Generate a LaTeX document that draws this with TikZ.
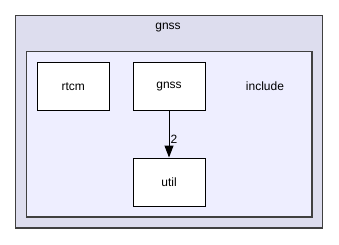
\documentclass[tikz,border=0pt]{standalone}
\usepackage{fontspec}
\setmainfont{Liberation Sans}
\usetikzlibrary{positioning,arrows.meta}
\definecolor{dirouter}{HTML}{DDDDEE}
\definecolor{dirinner}{HTML}{EEEEFF}
\definecolor{dirline}{HTML}{404040}

\tikzset{
  dirbox/.style={draw=black,fill=white,line width=1pt,minimum width=72pt,minimum height=48pt,inner sep=0pt,font=\fontsize{12}{14}\selectfont},
}

\begin{document}
\begin{tikzpicture}[x=1pt,y=-1pt,>={Triangle[length=12pt,width=9pt]}]
\useasboundingbox (0,0) rectangle (339,244);
\draw[draw=dirline,fill=dirouter,line width=1.2pt] (15.5,15.5) rectangle (322.5,228);
\node[font=\fontsize{12}{14}\selectfont] (outerlabel) at (168,28) {gnss};
\draw[draw=dirline,fill=dirinner,line width=1.2pt] (26.5,51.5) rectangle (312,217);
\node[font=\fontsize{12}{14}\selectfont] (innerlabel) at (265,86) {include};
\node[dirbox] (rtcm) at (73.3,86.2) {rtcm};
\node[dirbox] (gnss) at (169,86.2) {gnss};
\node[dirbox] (util) at (169,182) {util};
\draw[->,line width=1pt] (gnss) -- (util) node[pos=0.62,right=0pt,font=\fontsize{12}{14}\selectfont,inner sep=1pt]{2};
\end{tikzpicture}
\end{document}
